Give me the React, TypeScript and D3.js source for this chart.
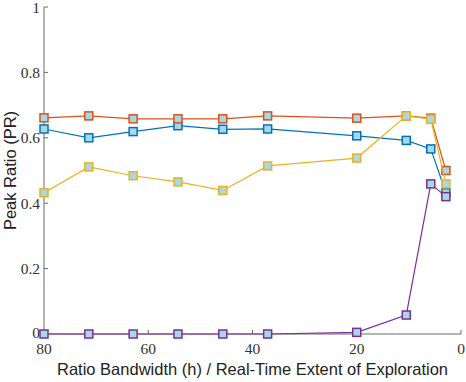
import React from 'react';
import * as d3 from 'd3';

// x positions (bandwidth h)
const bandwidth = [80, 71.4, 62.9, 54.3, 45.7, 37.1, 20, 10.5, 5.8, 2.9];

// peak ratio for each run
const seriesBlue = [0.627, 0.600, 0.619, 0.637, 0.626, 0.627, 0.606, 0.592, 0.566, 0.432];
const seriesOrange = [0.661, 0.667, 0.658, 0.658, 0.658, 0.667, 0.660, 0.667, 0.660, 0.500];
const seriesYellow = [0.432, 0.511, 0.484, 0.465, 0.439, 0.514, 0.538, 0.667, 0.657, 0.459];
const seriesPurple = [0, 0, 0, 0, 0, 0, 0.005, 0.058, 0.459, 0.420];

const xTicks = [80, 60, 40, 20, 0];
const yTicks = [0, 0.2, 0.4, 0.6, 0.8, 1];

const series = [
  { name: 'blue', color: '#0072BD', values: seriesBlue },
  { name: 'orange', color: '#D95319', values: seriesOrange },
  { name: 'yellow', color: '#EDB120', values: seriesYellow },
  { name: 'purple', color: '#7E2F8E', values: seriesPurple },
];

const W = 466;
const H = 382;
const m = { left: 44, right: 5, top: 7, bottom: 48 };

export default function App() {
  // x axis is reversed: 80 on the left, 0 on the right
  const x = d3.scaleLinear().domain([80, 0]).range([m.left, W - m.right]);
  const y = d3.scaleLinear().domain([0, 1]).range([H - m.bottom, m.top]);

  const line = d3
    .line<number>()
    .x((d, i) => x(bandwidth[i]))
    .y((d) => y(d));

  const axisColor = '#6b6b6b';
  const tickStyle = { fontFamily: "'Liberation Serif', 'Times New Roman', serif", fontSize: '15.5px' };
  const labelStyle = { fontFamily: "'Liberation Sans', Arial, sans-serif", fontSize: '16.5px' };
  const ms = 8; // marker side

  return (
    <svg
      width={W}
      height={H}
      style={{ position: 'absolute', left: 0, top: 0, background: '#fff' }}
    >
      {/* axes */}
      <line x1={m.left} x2={m.left} y1={y(0)} y2={y(1)} stroke={axisColor} strokeWidth={1} />
      <line x1={m.left} x2={x(0)} y1={y(0)} y2={y(0)} stroke={axisColor} strokeWidth={1} />

      {yTicks.map((t) => (
        <g key={'y' + t}>
          <line x1={m.left} x2={m.left + 4} y1={y(t)} y2={y(t)} stroke={axisColor} />
          <text
            x={m.left - 4}
            y={t === 1 ? y(t) + 1 : t === 0 ? y(t) - 1 : y(t)}
            dy="0.35em"
            textAnchor="end"
            style={tickStyle}
            fill="#333"
          >
            {t === 0 || t === 1 ? String(t) : t.toFixed(1)}
          </text>
        </g>
      ))}

      {xTicks.map((t) => (
        <g key={'x' + t}>
          <line x1={x(t)} x2={x(t)} y1={y(0)} y2={y(0) - 4} stroke={axisColor} />
          <text
            x={x(t)}
            y={y(0) + 20}
            textAnchor="middle"
            style={tickStyle}
            fill="#333"
          >
            {t}
          </text>
        </g>
      ))}

      {/* lines + square markers */}
      {series.map((s) => (
        <g key={s.name}>
          <path d={line(s.values) || ''} fill="none" stroke={s.color} strokeWidth={1.2} />
          {s.values.map((v, i) => (
            <rect
              key={i}
              x={x(bandwidth[i]) - ms / 2}
              y={y(v) - ms / 2}
              width={ms}
              height={ms}
              fill="#a6d8e6"
              stroke={s.color}
              strokeWidth={1.5}
            />
          ))}
        </g>
      ))}

      {/* axis titles */}
      <text
        x={(x(80) + x(0)) / 2}
        y={H - 7}
        textAnchor="middle"
        style={labelStyle}
        fill="#222"
      >
        Ratio Bandwidth (h) / Real-Time Extent of Exploration
      </text>
      <text
        transform={`translate(16, ${(y(0) + y(1)) / 2}) rotate(-90)`}
        textAnchor="middle"
        style={labelStyle}
        fill="#222"
      >
        Peak Ratio (PR)
      </text>
    </svg>
  );
}
